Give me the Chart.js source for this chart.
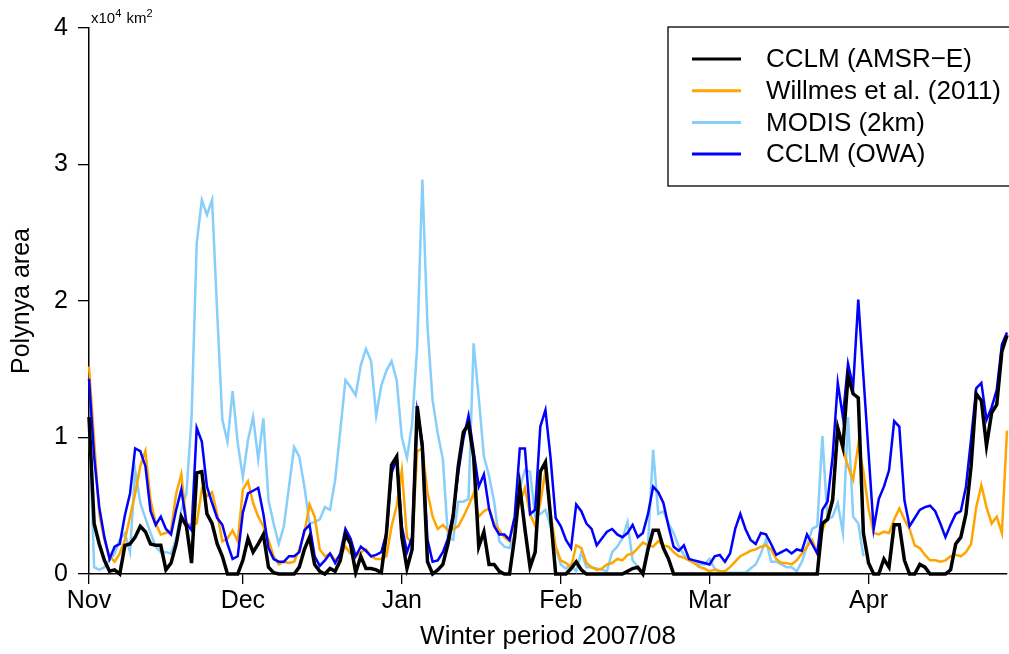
<!DOCTYPE html>
<html>
<head>
<meta charset="utf-8">
<title>Polynya area, winter 2007/08</title>
<script src="https://cdn.jsdelivr.net/npm/chart.js@4.4.1/dist/chart.umd.min.js"></script>
<style>
  html, body { margin: 0; padding: 0; background: #fff; }
  canvas { display: block; }
</style>
</head>
<body>
<canvas id="polynya" width="1009" height="654"></canvas>
<script>
// daily polynya area, 1 Nov 2007 .. 28 Apr 2008, in 10^4 km2
const startDate = new Date(2007, 10, 1);
const monthLabels = ["Nov", "Dec", "Jan", "Feb", "Mar", "Apr"];
const yTicks = [0, 1, 2, 3, 4];

const cclmAmsr = [
  1.15, 0.37, 0.22, 0.10, 0.02, 0.03, 0.00, 0.21, 0.22, 0.27, 0.35, 0.31, 0.22, 0.21, 0.21, 0.03, 0.08, 0.22, 0.42, 0.35, 0.08, 0.74, 0.75, 0.44, 0.37, 0.22, 0.13, 0.00, 0.00, 0.00,
  0.10, 0.26, 0.16, 0.22, 0.29, 0.05, 0.01, 0.00, 0.00, 0.00, 0.00, 0.05, 0.18, 0.27, 0.07, 0.02, 0.00, 0.04, 0.02, 0.10, 0.29, 0.22, 0.01, 0.13, 0.04, 0.04, 0.03, 0.01, 0.30, 0.80, 0.86,
  0.27, 0.04, 0.18, 1.23, 0.93, 0.09, 0.00, 0.03, 0.07, 0.22, 0.42, 0.79, 1.04, 1.10, 0.86, 0.20, 0.31, 0.07, 0.07, 0.02, 0.00, 0.00, 0.27, 0.64, 0.33, 0.05, 0.16, 0.75, 0.82, 0.42, 0.00,
  0.00, 0.00, 0.04, 0.09, 0.03, 0.00, 0.00, 0.00, 0.00, 0.00, 0.00, 0.00, 0.00, 0.02, 0.04, 0.05, 0.00, 0.18, 0.32, 0.32, 0.19, 0.11, 0.00, 0.00, 0.00, 0.00, 0.00, 0.00, 0.00,
  0.00, 0.00, 0.00, 0.00, 0.00, 0.00, 0.00, 0.00, 0.00, 0.00, 0.00, 0.00, 0.00, 0.00, 0.00, 0.00, 0.00, 0.00, 0.00, 0.00, 0.00, 0.00, 0.37, 0.40, 0.54, 1.07, 0.93, 1.45, 1.32, 1.29, 0.30,
  0.08, 0.00, 0.00, 0.11, 0.05, 0.36, 0.36, 0.10, 0.00, 0.00, 0.07, 0.05, 0.00, 0.00, 0.00, 0.00, 0.03, 0.22, 0.27, 0.44, 0.79, 1.32, 1.27, 0.94, 1.18, 1.24, 1.63, 1.75
];

const willmes = [
  1.52, 0.98, 0.44, 0.25, 0.13, 0.09, 0.15, 0.25, 0.42, 0.59, 0.79, 0.90, 0.54, 0.37, 0.29, 0.30, 0.32, 0.59, 0.73, 0.37, 0.36, 0.37, 0.62, 0.57, 0.60, 0.44, 0.24, 0.26, 0.32, 0.24,
  0.62, 0.68, 0.52, 0.42, 0.35, 0.25, 0.13, 0.07, 0.09, 0.08, 0.09, 0.18, 0.30, 0.51, 0.42, 0.18, 0.13, 0.15, 0.10, 0.14, 0.20, 0.15, 0.13, 0.16, 0.18, 0.13, 0.11, 0.11, 0.13, 0.35, 0.50,
  0.76, 0.27, 0.22, 0.90, 0.92, 0.60, 0.42, 0.33, 0.36, 0.32, 0.33, 0.35, 0.42, 0.50, 0.59, 0.42, 0.46, 0.48, 0.37, 0.32, 0.27, 0.24, 0.40, 0.52, 0.63, 0.44, 0.35, 0.52, 0.76, 0.44, 0.20,
  0.10, 0.08, 0.05, 0.21, 0.19, 0.08, 0.05, 0.03, 0.04, 0.07, 0.08, 0.11, 0.10, 0.14, 0.15, 0.19, 0.23, 0.21, 0.20, 0.24, 0.21, 0.20, 0.16, 0.13, 0.12, 0.10, 0.08, 0.05, 0.04,
  0.02, 0.03, 0.02, 0.02, 0.05, 0.09, 0.13, 0.15, 0.17, 0.18, 0.20, 0.21, 0.18, 0.11, 0.08, 0.08, 0.07, 0.10, 0.15, 0.20, 0.25, 0.15, 0.32, 0.42, 0.57, 1.07, 0.91, 0.79, 0.69, 0.95, 0.75,
  0.48, 0.30, 0.29, 0.31, 0.30, 0.40, 0.48, 0.40, 0.33, 0.21, 0.19, 0.14, 0.10, 0.10, 0.09, 0.10, 0.13, 0.14, 0.13, 0.16, 0.22, 0.49, 0.65, 0.49, 0.37, 0.42, 0.30, 1.05
];

// MODIS has no data in April
const modis = [
  1.14, 0.05, 0.03, 0.05, 0.10, 0.15, 0.25, 0.30, 0.16, 0.76, 0.52, 0.41, 0.30, 0.20, 0.16, 0.16, 0.15, 0.26, 0.47, 0.59, 1.15, 2.42, 2.74, 2.63, 2.74, 1.91, 1.13, 0.97, 1.34, 0.96,
  0.71, 0.98, 1.15, 0.84, 1.14, 0.54, 0.37, 0.22, 0.35, 0.64, 0.93, 0.86, 0.64, 0.37, 0.38, 0.40, 0.49, 0.47, 0.69, 1.05, 1.42, 1.37, 1.31, 1.53, 1.65, 1.56, 1.16, 1.38, 1.49, 1.56, 1.42,
  1.00, 0.85, 1.10, 1.67, 2.89, 1.81, 1.27, 1.03, 0.84, 0.27, 0.25, 0.53, 0.53, 0.55, 1.69, 1.29, 0.86, 0.72, 0.53, 0.24, 0.20, 0.19, 0.29, 0.63, 0.76, 0.75, 0.42, 0.44, 0.47, 0.35, 0.19,
  0.07, 0.04, 0.07, 0.02, 0.16, 0.05, 0.05, 0.04, 0.03, 0.02, 0.16, 0.20, 0.26, 0.38, 0.10, 0.05, 0.02, 0.22, 0.91, 0.44, 0.46, 0.37, 0.30, 0.20, 0.14, 0.10, 0.09, 0.07, 0.07,
  0.11, 0.04, 0.02, 0.01, 0.01, 0.01, 0.01, 0.01, 0.04, 0.07, 0.15, 0.25, 0.09, 0.09, 0.07, 0.05, 0.05, 0.02, 0.09, 0.20, 0.33, 0.35, 1.01, 0.40, 0.42, 0.52, 0.30, 1.15, 0.42, 0.37, 0.13,
  null, null, null, null, null, null, null, null, null, null, null, null, null, null, null, null, null, null, null, null, null, null, null, null, null, null, null, null
];

const cclmOwa = [
  1.43, 0.86, 0.49, 0.27, 0.11, 0.20, 0.22, 0.43, 0.59, 0.92, 0.90, 0.79, 0.46, 0.36, 0.42, 0.33, 0.29, 0.47, 0.62, 0.37, 0.32, 1.07, 0.97, 0.64, 0.52, 0.41, 0.36, 0.22, 0.11, 0.13,
  0.45, 0.59, 0.61, 0.63, 0.44, 0.19, 0.11, 0.09, 0.09, 0.13, 0.13, 0.16, 0.32, 0.36, 0.13, 0.06, 0.10, 0.15, 0.08, 0.15, 0.33, 0.26, 0.13, 0.20, 0.17, 0.13, 0.14, 0.16, 0.30, 0.74, 0.85,
  0.35, 0.16, 0.27, 1.19, 0.96, 0.25, 0.09, 0.10, 0.16, 0.26, 0.44, 0.74, 0.99, 1.16, 0.90, 0.64, 0.73, 0.48, 0.35, 0.29, 0.29, 0.25, 0.42, 0.92, 0.92, 0.44, 0.47, 1.08, 1.20, 0.85, 0.41,
  0.35, 0.25, 0.19, 0.51, 0.46, 0.37, 0.33, 0.21, 0.26, 0.31, 0.33, 0.29, 0.27, 0.30, 0.36, 0.27, 0.30, 0.44, 0.64, 0.60, 0.52, 0.35, 0.20, 0.17, 0.21, 0.11, 0.10, 0.09, 0.08,
  0.07, 0.13, 0.14, 0.09, 0.15, 0.33, 0.44, 0.33, 0.25, 0.22, 0.30, 0.29, 0.22, 0.14, 0.16, 0.18, 0.15, 0.18, 0.17, 0.29, 0.22, 0.15, 0.47, 0.53, 0.86, 1.40, 1.15, 1.54, 1.37, 2.01, 1.45,
  0.89, 0.33, 0.55, 0.64, 0.76, 1.12, 1.08, 0.54, 0.35, 0.41, 0.47, 0.49, 0.50, 0.46, 0.37, 0.27, 0.36, 0.44, 0.46, 0.64, 0.99, 1.36, 1.40, 1.13, 1.22, 1.35, 1.68, 1.77
];

const seriesNames  = ["CCLM (AMSR\u2212E)", "Willmes et al. (2011)", "MODIS (2km)", "CCLM (OWA)"];
const seriesColors = ["#000000", "#FFA500", "#87CEFA", "#0000FF"];
const seriesWidths = [3.5, 2.5, 2.5, 2.5];
const drawOrder    = [0, 2, 3, 1];   // black on top, light blue at the bottom
const seriesData   = [cclmAmsr, willmes, modis, cclmOwa];

const FONT = "'Liberation Sans', Arial, Helvetica, sans-serif";

// day index of the first of each month, counted from 1 Nov
const monthDays = monthLabels.map((m, k) => {
  const d = new Date(2007, 10 + k, 1);
  return Math.round((d - startDate) / 86400000);
});

function toPoints(values){
  return values.map((v, i) => ({x: i, y: v}));
}

// legend drawn like the R one: boxed, in the upper right corner
const boxLegend = {
  id: 'boxLegend',
  afterDatasetsDraw(chart){
    const ctx = chart.ctx;
    const area = chart.chartArea;
    const left = area.right - 339;
    const top = area.top - 1;
    ctx.save();
    ctx.fillStyle = '#fff';
    ctx.fillRect(left, top, 400, 159);
    ctx.strokeStyle = '#000';
    ctx.lineWidth = 1.3;
    ctx.strokeRect(left, top, 400, 159);
    ctx.font = '26px ' + FONT;
    ctx.textBaseline = 'middle';
    ctx.fillStyle = '#000';
    seriesNames.forEach((name, i) => {
      const y = top + 32 + i * 31.7;
      ctx.strokeStyle = seriesColors[i];
      ctx.lineWidth = 3;
      ctx.beginPath();
      ctx.moveTo(left + 24, y);
      ctx.lineTo(left + 73, y);
      ctx.stroke();
      ctx.fillText(name, left + 98, y + 1);
    });
    ctx.restore();
  }
};

// "x10^4 km^2" above the y axis
const unitLabel = {
  id: 'unitLabel',
  afterDraw(chart){
    const ctx = chart.ctx;
    let x = chart.chartArea.left + 2;
    const y = chart.chartArea.top - 5;
    ctx.save();
    ctx.fillStyle = '#000';
    ctx.textBaseline = 'alphabetic';
    const parts = [["x10", 15, 0], ["4", 11, -6], [" km", 15, 0], ["2", 11, -6]];
    parts.forEach(p => {
      ctx.font = p[1] + 'px ' + FONT;
      ctx.fillText(p[0], x, y + p[2]);
      x += ctx.measureText(p[0]).width + (p[1] === 11 ? 1 : 0);
    });
    ctx.restore();
  }
};

const ctx = document.getElementById('polynya').getContext('2d');
const chart = new Chart(ctx, {
  type: 'line',
  data: {
    datasets: seriesNames.map((name, i) => ({
      label: name,
      data: toPoints(seriesData[i]),
      borderColor: seriesColors[i],
      backgroundColor: seriesColors[i],
      borderWidth: seriesWidths[i],
      pointRadius: 0,
      tension: 0,
      spanGaps: false,
      clip: 4,
      order: drawOrder[i]
    }))
  },
  options: {
    responsive: false,
    animation: false,
    events: [],
    layout: { padding: { top: 28, right: 2, left: 0, bottom: 0 } },
    plugins: {
      legend: { display: false },
      tooltip: { enabled: false }
    },
    scales: {
      x: {
        type: 'linear',
        min: 0,
        max: cclmAmsr.length - 1,
        afterFit: s => { s.height = 80; },
        afterBuildTicks: s => { s.ticks = monthDays.map(v => ({value: v})); },
        grid: { drawOnChartArea: false, drawTicks: true, tickLength: 10, color: '#000', lineWidth: 1.3 },
        border: { display: true, color: '#000', width: 1.5 },
        ticks: {
          autoSkip: false,
          maxRotation: 0,
          padding: 2,
          color: '#000',
          font: { family: FONT, size: 25 },
          callback: v => monthLabels[monthDays.indexOf(v)]
        },
        title: {
          display: true,
          text: 'Winter period 2007/08',
          color: '#000',
          font: { family: FONT, size: 26 },
          padding: { top: 0, bottom: 2 }
        }
      },
      y: {
        min: yTicks[0],
        max: yTicks[yTicks.length - 1],
        afterFit: s => { s.width = 89; },
        afterBuildTicks: s => { s.ticks = yTicks.map(v => ({value: v})); },
        grid: { drawOnChartArea: false, drawTicks: true, tickLength: 11, color: '#000', lineWidth: 1.3 },
        border: { display: true, color: '#000', width: 1.5 },
        ticks: {
          padding: 10,
          color: '#000',
          font: { family: FONT, size: 25 }
        },
        title: {
          display: true,
          text: 'Polynya area',
          color: '#000',
          font: { family: FONT, size: 25 },
          padding: { top: 7, bottom: 0 }
        }
      }
    }
  },
  plugins: [boxLegend, unitLabel]
});
</script>
</body>
</html>
